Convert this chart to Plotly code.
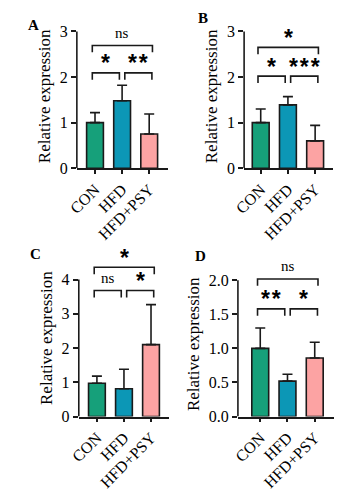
import plotly.graph_objects as go

# ---------------- data ----------------
groups = ["CON", "HFD", "HFD+PSY"]
bar_colors = ["#16a07a", "#0c97b6", "#fca3a3"]

a_mean = [1.00, 1.48, 0.75]
a_err = [0.22, 0.34, 0.44]
b_mean = [1.00, 1.39, 0.60]
b_err = [0.30, 0.18, 0.34]
c_mean = [0.97, 0.81, 2.10]
c_err = [0.21, 0.57, 1.17]
d_mean = [1.00, 0.52, 0.86]
d_err = [0.30, 0.10, 0.23]

# significance labels: [CON vs HFD, HFD vs HFD+PSY, CON vs HFD+PSY]
a_sig = ["*", "**", "ns"]
b_sig = ["*", "***", "*"]
c_sig = ["ns", "*", "*"]
d_sig = ["**", "*", "ns"]

# bracket heights (data units): [lower pair brackets, top bracket]
a_brk = [2.09, 2.69]
b_brk = [2.02, 2.65]
c_brk = [3.68, 4.36]
d_brk = [1.58, 2.02]

a_ticks = [0, 1, 2, 3]
b_ticks = [0, 1, 2, 3]
c_ticks = [0, 1, 2, 3, 4]
d_ticks = [0.0, 0.5, 1.0, 1.5, 2.0]

panel_letters = ["A", "B", "C", "D"]

# ---------------- layout helpers ----------------
W, H = 349, 500
SERIF = "Liberation Serif"
SANS = "Liberation Sans"
INK = "#1a1a1a"

panels = [
    dict(mean=a_mean, err=a_err, sig=a_sig, brk=a_brk, ticks=a_ticks, fmt="d",
         xpx=(68, 162), y0px=170.7, ytpx=31, pad=(0.67, 0.69), letter=(23, 24)),
    dict(mean=b_mean, err=b_err, sig=b_sig, brk=b_brk, ticks=b_ticks, fmt="d",
         xpx=(240.7, 332.3), y0px=170.7, ytpx=31, pad=(0.61, 0.65), letter=(198, 17)),
    dict(mean=c_mean, err=c_err, sig=c_sig, brk=c_brk, ticks=c_ticks, fmt="d",
         xpx=(70, 163), y0px=424, ytpx=284.3, pad=(0.67, 0.66), letter=(25, 258)),
    dict(mean=d_mean, err=d_err, sig=d_sig, brk=d_brk, ticks=d_ticks, fmt=".1f",
         xpx=(234.3, 333.3), y0px=424, ytpx=285, pad=(0.82, 0.70), letter=(196, 260)),
]

fig = go.Figure()
layout = dict(
    width=W, height=H, margin=dict(l=0, r=0, t=0, b=0),
    paper_bgcolor="white", plot_bgcolor="white", showlegend=False,
    shapes=[], annotations=[],
)

xidx = list(range(len(groups)))

for k, p in enumerate(panels):
    n = "" if k == 0 else str(k + 1)
    xa, ya = "x" + n, "y" + n
    top_tick = p["ticks"][-1]
    ymax = max(top_tick, max(p["brk"])) * 1.05  # headroom for brackets
    unit_px = (p["y0px"] - p["ytpx"]) / top_tick
    ytop_px = p["y0px"] - unit_px * ymax

    fig.add_trace(go.Bar(
        x=xidx, y=p["mean"], width=0.62, xaxis=xa, yaxis=ya,
        marker=dict(color=bar_colors, line=dict(color=INK, width=1.6)),
        error_y=dict(type="data", symmetric=False, array=p["err"],
                     arrayminus=[0] * len(groups), color=INK, thickness=1.6, width=5),
        hoverinfo="skip",
    ))

    layout["xaxis" + n] = dict(
        domain=[p["xpx"][0] / W, p["xpx"][1] / W], anchor=ya,
        range=[-p["pad"][0], len(groups) - 1 + p["pad"][1]],
        tickvals=xidx, ticktext=groups, tickangle=-45,
        showline=True, linecolor=INK, linewidth=1.6,
        ticks="outside", ticklen=4, tickwidth=1.6, tickcolor=INK,
        tickfont=dict(family=SERIF, size=16, color="black"),
        showgrid=False, zeroline=False, fixedrange=True,
    )
    layout["yaxis" + n] = dict(
        domain=[(H - p["y0px"]) / H, min(1.0, (H - ytop_px) / H)], anchor=xa,
        range=[0, ymax], tickvals=p["ticks"],
        ticktext=[format(t, p["fmt"]) if p["fmt"] != "d" else str(int(t)) for t in p["ticks"]],
        showline=False, ticks="outside", ticklen=5, tickwidth=1.6, tickcolor=INK,
        tickfont=dict(family=SERIF, size=16, color="black"),
        title=dict(text="Relative expression", standoff=4,
                   font=dict(family=SERIF, size=17, color="black")),
        showgrid=False, zeroline=False, fixedrange=True,
    )
    # visible y axis line, only up to the top tick
    layout["shapes"].append(dict(
        type="line", xref=xa + " domain", x0=0, x1=0, yref=ya, y0=0, y1=top_tick,
        line=dict(color=INK, width=1.6), layer="above"))

    # significance brackets
    drop = 0.05 * top_tick
    pairs = [(0, 1, p["brk"][0], -0.1, -0.1), (1, 2, p["brk"][0], 0.1, 0.1),
             (0, 2, p["brk"][1], -0.1, 0.12)]
    for (i, j, h, li, rj), lab in zip(pairs, p["sig"]):
        x0, x1 = i + li, j + rj
        layout["shapes"].append(dict(
            type="path", xref=xa, yref=ya,
            path=f"M {x0},{h - drop} L {x0},{h} L {x1},{h} L {x1},{h - drop}",
            line=dict(color=INK, width=1.6)))
        if lab == "ns":
            layout["annotations"].append(dict(
                x=(x0 + x1) / 2, y=h, xref=xa, yref=ya, text=lab, showarrow=False,
                yanchor="bottom", yshift=2.5, font=dict(family=SERIF, size=15, color="black")))
        else:
            layout["annotations"].append(dict(
                x=(x0 + x1) / 2, y=h, xref=xa, yref=ya,
                text="<b>" + "\u200a".join(lab) + "</b>", showarrow=False,
                yanchor="bottom", yshift=-5.5, font=dict(family=SANS, size=23, color="black")))

    layout["annotations"].append(dict(
        x=p["letter"][0] / W, y=1 - p["letter"][1] / H, xref="paper", yref="paper",
        text="<b>" + panel_letters[k] + "</b>", showarrow=False,
        xanchor="center", yanchor="middle", font=dict(family=SERIF, size=15, color="black")))

fig.update_layout(**layout)
fig.write_html("out.html")
